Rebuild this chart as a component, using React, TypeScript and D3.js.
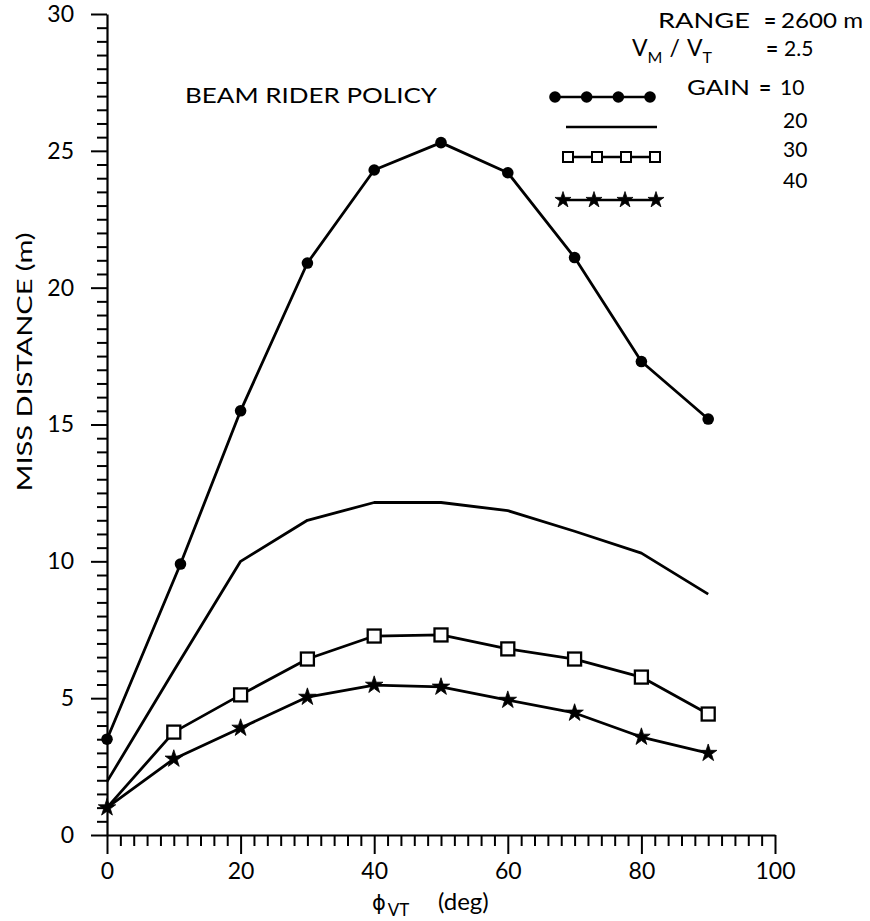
import React, { useEffect, useRef } from "react";
import * as d3 from "d3";

const angles = [0, 10, 20, 30, 40, 50, 60, 70, 80, 90];
const gain10Angles = [0, 11, 20, 30, 40, 50, 60, 70, 80, 90];
const gain10 = [3.5, 9.9, 15.5, 20.9, 24.3, 25.3, 24.2, 21.1, 17.3, 15.2];
const gain20 = [1.95, 6.0, 10.0, 11.5, 12.15, 12.15, 11.85, 11.1, 10.3, 8.8];
const gain30 = [1.0, 3.76, 5.12, 6.43, 7.27, 7.31, 6.8, 6.43, 5.77, 4.42];
const gain40 = [1.0, 2.78, 3.91, 5.04, 5.48, 5.41, 4.93, 4.46, 3.58, 2.99];
const gainLabels = ["10", "20", "30", "40"];
const xMajorTicks = [0, 20, 40, 60, 80, 100];
const yMajorTicks = [0, 5, 10, 15, 20, 25, 30];

const FONT = "Lato, 'Open Sans', sans-serif";

const x = d3.scaleLinear().domain([0, 100]).range([107, 775]);
const y = d3.scaleLinear().domain([0, 30]).range([835, 14]);

type Pt = [number, number];
const zip = (xs: number[], ys: number[]): Pt[] => xs.map((v, i) => [v, ys[i]]);

const lineGen = d3
  .line<Pt>()
  .x((d) => x(d[0]))
  .y((d) => y(d[1]));

const starPath = d3.symbol().type(d3.symbolStar).size(95)() as string;
const starPathSmall = d3.symbol().type(d3.symbolStar).size(80)() as string;

export default function App() {
  const xRef = useRef<SVGGElement>(null);
  const yRef = useRef<SVGGElement>(null);

  useEffect(() => {
    const gx = d3.select(xRef.current);
    gx.selectAll("*").remove();
    gx.append("g")
      .call(
        d3
          .axisBottom(x)
          .tickValues(d3.range(0, 101, 2).filter((v) => v % 20 !== 0))
          .tickSize(11)
          .tickFormat(() => "")
      )
      .call((g) => g.select(".domain").remove());
    gx.append("g")
      .call(
        d3
          .axisBottom(x)
          .tickValues(xMajorTicks)
          .tickSize(19)
          .tickSizeOuter(0)
          .tickPadding(9)
          .tickFormat(d3.format("d"))
      );
    gx.selectAll("line").attr("stroke", "#000").attr("stroke-width", 2);
    gx.selectAll(".domain").attr("stroke", "#000").attr("stroke-width", 2.2);
    gx.selectAll("text")
      .attr("font-family", FONT)
      .attr("font-size", 23)
      .attr("fill", "#000");

    const gy = d3.select(yRef.current);
    gy.selectAll("*").remove();
    gy.append("g")
      .call(
        d3
          .axisLeft(y)
          .tickValues(d3.range(0, 30.01, 0.5).filter((v) => v % 5 !== 0))
          .tickSize(10)
          .tickFormat(() => "")
      )
      .call((g) => g.select(".domain").remove());
    gy.append("g")
      .call(
        d3
          .axisLeft(y)
          .tickValues(yMajorTicks)
          .tickSize(16)
          .tickSizeOuter(0)
          .tickPadding(17)
          .tickFormat(d3.format("d"))
      );
    gy.selectAll("line").attr("stroke", "#000").attr("stroke-width", 2);
    gy.selectAll(".domain").attr("stroke", "#000").attr("stroke-width", 2.2);
    gy.selectAll("text")
      .attr("font-family", FONT)
      .attr("font-size", 23)
      .attr("fill", "#000");
  }, []);

  const s10 = zip(gain10Angles, gain10);
  const s20 = zip(angles, gain20);
  const s30 = zip(angles, gain30);
  const s40 = zip(angles, gain40);

  const lineStyle = { fill: "none", stroke: "#000", strokeWidth: 2.8, strokeLinejoin: "round" as const };

  const legendRows = [
    { y: 97, x0: 555, x1: 650 },
    { y: 127, x0: 566, x1: 657 },
    { y: 157, x0: 568, x1: 655 },
    { y: 200, x0: 560, x1: 658 },
  ];
  const legendLabelBase = [95, 128, 157, 188];
  const four = [0, 1, 2, 3];

  return (
    <svg
      width={870}
      height={921}
      style={{ position: "absolute", left: 0, top: 0, background: "#fff" }}
      fontFamily={FONT}
    >
      <rect x={0} y={0} width={870} height={921} fill="#fff" />
      <g ref={xRef} transform={`translate(0,${y(0)})`} />
      <g ref={yRef} transform={`translate(${x(0)},0)`} />

      <path d={lineGen(s10) as string} {...lineStyle} />
      <path d={lineGen(s20) as string} {...lineStyle} />
      <path d={lineGen(s30) as string} {...lineStyle} />
      <path d={lineGen(s40) as string} {...lineStyle} />

      {s10.map((d, i) => (
        <circle key={"c" + i} cx={x(d[0])} cy={y(d[1])} r={5.8} fill="#000" />
      ))}
      {s30.slice(1).map((d, i) => (
        <rect
          key={"s" + i}
          x={x(d[0]) - 6.5}
          y={y(d[1]) - 6.5}
          width={13}
          height={13}
          fill="#fff"
          stroke="#000"
          strokeWidth={2.3}
        />
      ))}
      {s40.map((d, i) => (
        <path key={"t" + i} d={starPath} transform={`translate(${x(d[0])},${y(d[1])})`} fill="#000" stroke="#000" strokeWidth={0.8} />
      ))}

      <text x={185} y={103} fontSize={21} textLength={252} lengthAdjust="spacingAndGlyphs">
        BEAM RIDER POLICY
      </text>

      <text
        transform="translate(32,362) rotate(-90)"
        textAnchor="middle"
        fontSize={22}
        textLength={259}
        lengthAdjust="spacingAndGlyphs"
      >
        MISS DISTANCE (m)
      </text>

      <text x={372} y={910} fontSize={24}>
        <tspan fontFamily="'DejaVu Sans', sans-serif" fontSize={21}>ϕ</tspan>
        <tspan dy={6} dx={2} fontSize={17}>VT</tspan>
        <tspan dy={-6} x={438}>(deg)</tspan>
      </text>

      <text x={658} y={28} fontSize={21} textLength={92} lengthAdjust="spacingAndGlyphs">RANGE</text>
      <text x={764} y={28} fontSize={21} fontWeight={700}>=</text>
      <text x={781} y={28} fontSize={21} textLength={82} lengthAdjust="spacingAndGlyphs">2600 m</text>

      <text x={632} y={56} fontSize={23}>
        <tspan>V</tspan>
        <tspan dy={7} fontSize={16}>M</tspan>
        <tspan dy={-7} dx={7}>/</tspan>
        <tspan dx={7}>V</tspan>
        <tspan dy={7} fontSize={16}>T</tspan>
      </text>
      <text x={766} y={56} fontSize={21} fontWeight={700}>=</text>
      <text x={784} y={56} fontSize={21}>2.5</text>

      <text x={687} y={95} fontSize={21} textLength={63} lengthAdjust="spacingAndGlyphs">GAIN</text>
      <text x={759} y={95} fontSize={21} fontWeight={700}>=</text>
      {gainLabels.map((g, i) => (
        <text key={"gl" + i} x={i === 0 ? 780 : 783} y={legendLabelBase[i]} fontSize={21}>
          {g}
        </text>
      ))}

      {legendRows.map((r, i) => (
        <line key={"ll" + i} x1={r.x0} x2={r.x1} y1={r.y} y2={r.y} stroke="#000" strokeWidth={i === 1 ? 2.4 : 2.7} />
      ))}
      {four.map((k) => {
        const r = legendRows[0];
        return <circle key={"lc" + k} cx={r.x0 + ((r.x1 - r.x0) * k) / 3} cy={r.y} r={5.8} fill="#000" />;
      })}
      {four.map((k) => {
        const r = legendRows[2];
        return (
          <rect
            key={"ls" + k}
            x={r.x0 + ((r.x1 - r.x0) * k) / 3 - 5}
            y={r.y - 5}
            width={10}
            height={10}
            fill="#fff"
            stroke="#000"
            strokeWidth={2}
          />
        );
      })}
      {four.map((k) => {
        const r = legendRows[3];
        return (
          <path
            key={"lt" + k}
            d={starPathSmall}
            transform={`translate(${r.x0 + 3 + ((r.x1 - r.x0 - 5) * k) / 3},${r.y})`}
            fill="#000"
            stroke="#000"
            strokeWidth={0.8}
          />
        );
      })}
    </svg>
  );
}
